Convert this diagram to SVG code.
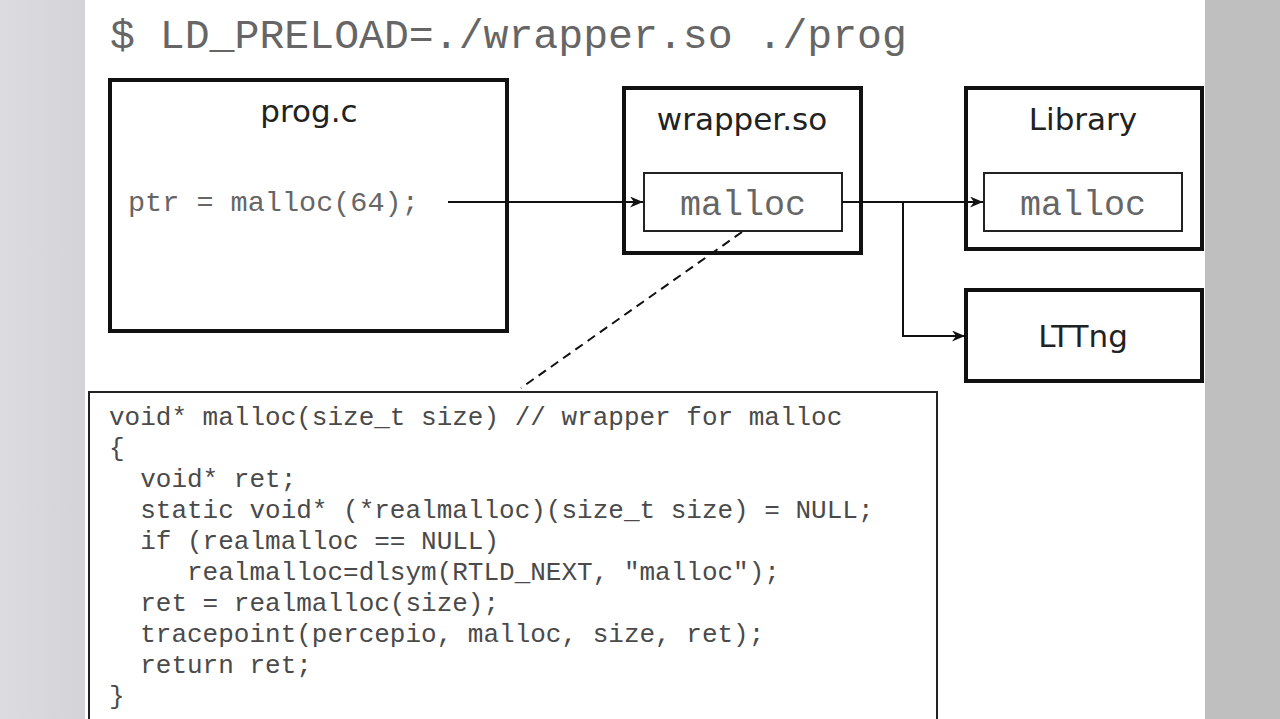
<svg xmlns="http://www.w3.org/2000/svg" width="1280" height="719" viewBox="0 0 1280 719">
<defs>
<marker id="arr" viewBox="0 0 13 11" refX="13" refY="5.5" markerWidth="13" markerHeight="11" markerUnits="userSpaceOnUse" orient="auto">
<path d="M0,0 L13,5.5 L0,11 L4,5.5 z" fill="#111"/>
</marker>
<linearGradient id="lg" x1="0" y1="0" x2="1" y2="0">
<stop offset="0" stop-color="#dcdce0"/><stop offset="1" stop-color="#d3d3d8"/>
</linearGradient>
</defs>
<style>
.box{fill:#fff;stroke:#111;stroke-width:4}
.inner{fill:#fff;stroke:#222;stroke-width:2}
.sans{font-family:"DejaVu Sans","Verdana",sans-serif;font-size:31px;fill:#222;text-anchor:middle}
.mono{font-family:"Liberation Mono","Courier New",monospace;fill:#666}
.code{font-family:"Liberation Mono","Courier New",monospace;font-size:26px;fill:#4a4a4a;white-space:pre}
.conn{fill:none;stroke:#111;stroke-width:2}
</style>
<rect x="0" y="0" width="1280" height="719" fill="#fff"/>
<rect x="0" y="0" width="85" height="719" fill="url(#lg)"/>
<rect x="1205" y="0" width="75" height="719" fill="#bfbfc0"/>

<g id="title">
<text class="mono" x="110" y="48" font-size="41.5" xml:space="preserve">$ LD_PRELOAD=./wrapper.so ./prog</text>
</g>

<g id="prog">
<rect class="box" x="110" y="80" width="397" height="251"/>
<text class="sans" x="309" y="122">prog.c</text>
<text class="mono" x="128" y="211" font-size="28.5" xml:space="preserve">ptr = malloc(64);</text>
</g>

<g id="wrapper">
<rect class="box" x="624" y="88" width="237" height="165"/>
<text class="sans" x="742" y="130">wrapper.so</text>
<g id="wrapper-malloc">
<rect class="inner" x="644" y="173" width="198" height="58"/>
<text class="mono" x="743" y="215" font-size="35" text-anchor="middle" fill="#777">malloc</text>
</g>
</g>

<g id="library">
<rect class="box" x="966" y="88" width="236" height="161"/>
<text class="sans" x="1083" y="130">Library</text>
<g id="library-malloc">
<rect class="inner" x="984" y="173" width="198" height="58"/>
<text class="mono" x="1083" y="215" font-size="35" text-anchor="middle" fill="#777">malloc</text>
</g>
</g>

<g id="lttng">
<rect class="box" x="966" y="290" width="236" height="91"/>
<text class="sans" x="1083" y="347">LTTng</text>
</g>

<g id="code">
<rect x="89" y="392" width="848" height="340" fill="#fff" stroke="#222" stroke-width="2"/>
<text class="code" xml:space="preserve"><tspan x="109" y="425">void* malloc(size_t size) // wrapper for malloc</tspan><tspan x="109" y="456">{</tspan><tspan x="109" y="487">  void* ret;</tspan><tspan x="109" y="518">  static void* (*realmalloc)(size_t size) = NULL;</tspan><tspan x="109" y="549">  if (realmalloc == NULL)</tspan><tspan x="109" y="580">     realmalloc=dlsym(RTLD_NEXT, "malloc");</tspan><tspan x="109" y="611">  ret = realmalloc(size);</tspan><tspan x="109" y="642">  tracepoint(percepio, malloc, size, ret);</tspan><tspan x="109" y="673">  return ret;</tspan><tspan x="109" y="704">}</tspan></text>
</g>

<g id="connectors">
<path class="conn" d="M448,202 H643" marker-end="url(#arr)"/>
<path class="conn" d="M842,202 H983" marker-end="url(#arr)"/>
<path class="conn" d="M903,202 V336 H965" marker-end="url(#arr)"/>
<path class="conn" d="M742,232 L521,388" stroke-width="2.5" stroke-dasharray="9,6"/>
</g>
</svg>
